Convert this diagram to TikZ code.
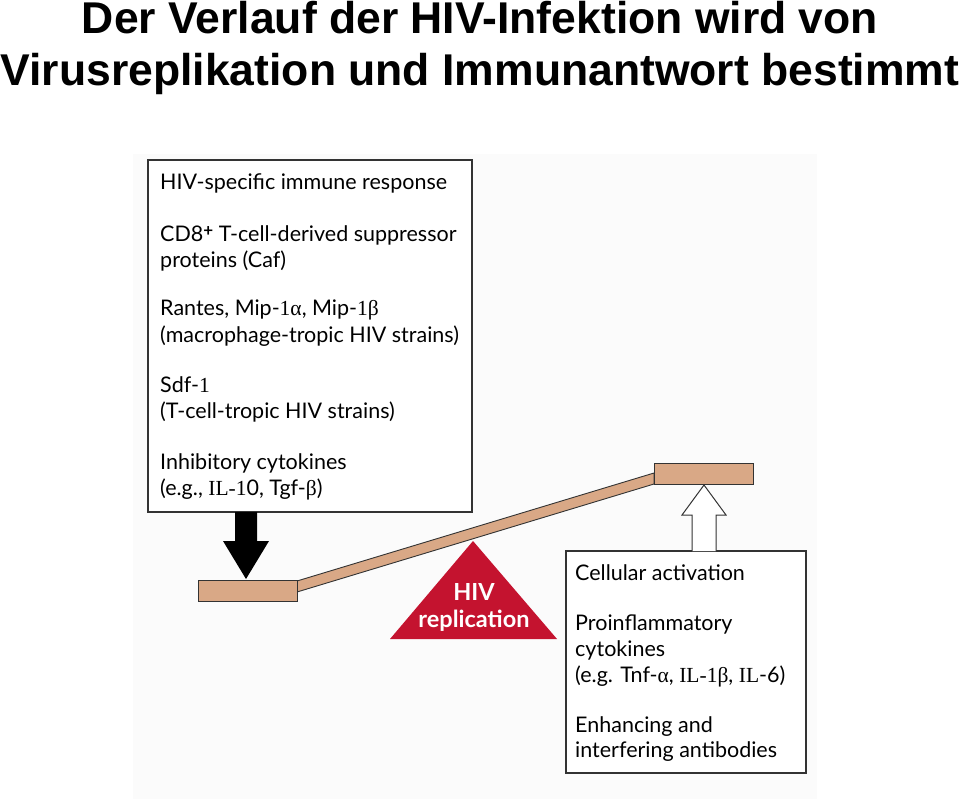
\documentclass[tikz,border=0pt]{standalone}
\usepackage{fontspec}
\setmainfont{Lato}
\newfontfamily\titlefont{Liberation Sans}
\newfontfamily\sr{Liberation Serif}
\definecolor{plank}{HTML}{D9A886}
\definecolor{hivred}{HTML}{C4132F}
\definecolor{edge}{HTML}{333333}
\begin{document}
\begin{tikzpicture}[x=1pt,y=-1pt,
  titletext/.style={font=\titlefont\bfseries\fontsize{44.5}{50}\selectfont, anchor=base, inner sep=0},
  boxtext/.style={font=\fontsize{21.5}{26}\selectfont, anchor=base west, inner sep=0},
  infobox/.style={draw=edge, line width=1.4pt, fill=white},
  plankshape/.style={draw=edge, line width=0.9pt, fill=plank},
  ]
\useasboundingbox (0,0) rectangle (960,799);
\fill[black!1.5] (133,154) rectangle (817,799);
% title
\node[titletext] (t1) at (480,34) {Der Verlauf der HIV-Infektion wird von};
\node[titletext] (t2) at (480,86) {Virusreplikation und Immunantwort bestimmt};
% left box
\draw[infobox] (148,160) rectangle (472,512);
\node[boxtext] (l1) at (160,190) {HIV-specific immune response};
\node[boxtext] (l2) at (160,242) {CD8\raisebox{0.55ex}{\fontsize{17}{17}\selectfont\bfseries +} T-cell-derived suppressor};
\node[boxtext] (l3) at (160,268) {proteins (Caf)};
\node[boxtext] (l4) at (160,316) {Rantes, Mip-{\sr 1α}, Mip-{\sr 1β}};
\node[boxtext] (l5) at (160,342) {(macrophage-tropic HIV strains)};
\node[boxtext] (l6) at (160,392) {Sdf-{\sr 1}};
\node[boxtext] (l7) at (160,418) {(T-cell-tropic HIV strains)};
\node[boxtext] (l8) at (160,469) {Inhibitory cytokines};
\node[boxtext] (l9) at (160,495) {(e.g., {\sr IL-1}0, Tgf-{\sr β})};
% right box
\draw[infobox] (566,551) rectangle (806,773);
\node[boxtext] (r1) at (575,580) {Cellular activation};
\node[boxtext] (r2) at (575,630) {Proinflammatory};
\node[boxtext] (r3) at (575,656) {cytokines};
\node[boxtext] (r4) at (575,682) {(e.g. Tnf-{\sr α}, {\sr IL-1β}, {\sr IL}-6)};
\node[boxtext] (r5) at (575,732) {Enhancing and};
\node[boxtext] (r6) at (575,757) {interfering antibodies};
% seesaw
\fill[hivred] (473,541) coordinate (apex) -- (557,639) coordinate (br) -- (390,639) coordinate (bl) -- cycle;
\node[font=\bfseries\fontsize{23.5}{27}\selectfont, text=white, align=center, inner sep=0] (hiv) at (474,607) {HIV\\replication};
\draw[plankshape] (297,581) -- (654,473) -- (654,484) -- (297,592) -- cycle;
\draw[plankshape] (198,580) rectangle (297,601);
\draw[plankshape] (654,463) rectangle (753,484);
% black arrow down
\coordinate (bt) at (246,512);
\coordinate (btip) at (246,579);
\fill[black] (235,512) -- (257,512) -- (257,541) -- (269,541) -- (btip) -- (223,541) -- (235,541) -- cycle;
% white arrow up
\coordinate (wtip) at (704,485);
\draw[edge, line width=1pt, fill=white] (692,551) -- (692,515) -- (682,515) -- (wtip) -- (726,515) -- (716,515) -- (716,551);
\end{tikzpicture}
\end{document}
